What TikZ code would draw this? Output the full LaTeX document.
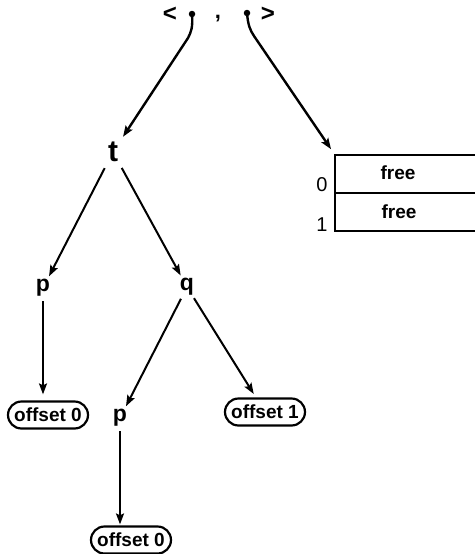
\documentclass[tikz,border=0pt]{standalone}
\usepackage{fontspec}
\setmainfont{Liberation Sans}
\usetikzlibrary{arrows.meta,shapes.misc}
\begin{document}
\begin{tikzpicture}[x=1pt,y=-1pt,
  txt/.style={font=\bfseries\fontsize{19}{21}\selectfont, inner sep=0pt},
  lbl/.style={font=\bfseries\fontsize{23}{25}\selectfont, circle, inner sep=0pt, minimum size=26pt},
  obox/.style={draw, line width=2.2pt, rounded rectangle, minimum width=80pt, minimum height=27pt, inner sep=0pt, font=\bfseries\fontsize{19}{21}\selectfont},
  cell/.style={draw, line width=2pt, rectangle, outer sep=0pt, minimum width=145pt, minimum height=38pt, inner sep=0pt},
  dotn/.style={circle, fill, inner sep=0pt, minimum size=6.5pt},
  conn/.style={line width=2pt, -{Stealth[length=11pt,width=8pt,inset=2pt]}}
]
\useasboundingbox (0,0) rectangle (474,554);
% top tuple
\node[txt, font=\bfseries\fontsize{24}{26}\selectfont] (lt) at (170,14) {<};
\node[dotn] (d1) at (192,14) {};
\node[txt, font=\bfseries\fontsize{22}{22}\selectfont, anchor=base] (cm) at (218,18) {,};
\node[dotn] (d2) at (247,13) {};
\node[txt, font=\bfseries\fontsize{24}{26}\selectfont] (gt) at (268,14) {>};
% memory table
\node[cell, anchor=north west] (c0) at (335,155) {};
\node[cell, anchor=north west] (c1) at (c0.south west) {};
\node[txt] (f0) at (398,173) {free};
\node[txt] (f1) at (399,212) {free};
\node[txt, font=\fontsize{20}{22}\selectfont] (i0) at (322,185) {0};
\node[txt, font=\fontsize{20}{22}\selectfont] (i1) at (322,225) {1};
% tree
\node[lbl, minimum size=36pt, font=\bfseries\fontsize{30}{32}\selectfont] (t) at (113,152) {t};
\node[lbl] (p1) at (43,288) {p};
\node[lbl] (q) at (187,287) {q};
\node[lbl] (p2) at (120,418) {p};
\node[obox] (o1) at (48,415) {offset 0};
\node[obox] (o2) at (265,412) {offset 1};
\node[obox] (o3) at (131,540) {offset 0};
% connectors
\draw[conn, line width=2.4pt] (d1.center) .. controls (193,28) and (191,32) .. (188,38) -- (t);
\draw[conn, line width=2.4pt, shorten >=7pt] (d2.center) .. controls (248,25) and (250,30) .. (254,36) -- (c0.north west);
\draw[conn] (t) -- (p1);
\draw[conn] (t) -- (q);
\draw[conn] (q) -- (p2);
\draw[conn, shorten >=4pt] (q) -- (o2);
\draw[conn, shorten >=6pt] (p1) -- (p1 |- o1.north);
\draw[conn, shorten >=1pt] (p2) -- (p2 |- o3.north);
\end{tikzpicture}
\end{document}
